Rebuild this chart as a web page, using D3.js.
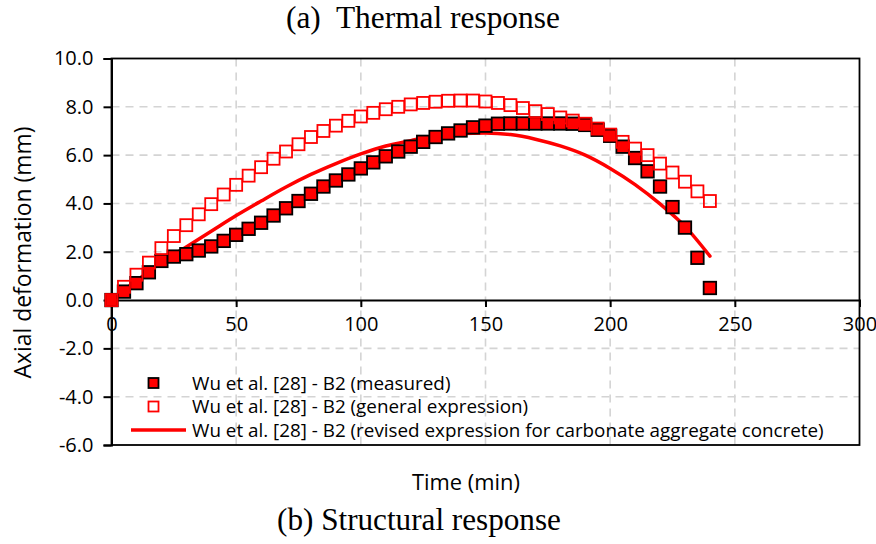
<!DOCTYPE html>
<html>
<head>
<meta charset="utf-8">
<script src="https://cdn.jsdelivr.net/npm/d3@7"></script>
<style>
  html, body { margin: 0; padding: 0; background: #ffffff; }
  svg { display: block; }
</style>
</head>
<body>
<svg id="chart" width="876" height="544"></svg>
<script>
// ---------- data ----------
const timeMeasured = [0,5,10,15,20,25,30,35,40,45,50,55,60,65,70,75,80,85,90,95,100,105,110,115,120,125,130,135,140,145,150,155,160,165,170,175,180,185,190,195,200,205,210,215,220,225,230,235,240];
const measured = [0,0.35,0.7,1.15,1.62,1.8,1.9,2.05,2.22,2.45,2.7,2.95,3.2,3.5,3.8,4.1,4.4,4.7,4.95,5.2,5.45,5.7,5.95,6.15,6.35,6.55,6.75,6.9,7.02,7.15,7.22,7.3,7.31,7.31,7.31,7.31,7.31,7.3,7.25,7.05,6.8,6.35,5.88,5.33,4.7,3.85,3.0,1.75,0.5];

const timeGeneral = [0,5,10,15,20,25,30,35,40,45,50,55,60,65,70,75,80,85,90,95,100,105,110,115,120,125,130,135,140,145,150,155,160,165,170,175,180,185,190,195,200,205,210,215,220,225,230,235,240];
const general = [0,0.55,1.05,1.55,2.15,2.65,3.1,3.55,3.97,4.37,4.77,5.15,5.5,5.85,6.15,6.45,6.75,7.0,7.22,7.42,7.6,7.75,7.9,8.0,8.1,8.16,8.21,8.25,8.26,8.26,8.22,8.16,8.07,7.95,7.82,7.7,7.56,7.43,7.3,7.1,6.85,6.55,6.27,6.0,5.65,5.28,4.9,4.5,4.1];

const timeRevised = [0,10,20,30,40,50,60,70,80,90,100,110,120,130,140,150,160,170,180,190,200,210,220,230,240];
const revised = [0,0.8,1.55,2.2,2.85,3.5,4.1,4.68,5.2,5.65,6.05,6.38,6.6,6.8,6.9,6.92,6.85,6.66,6.38,6.0,5.45,4.78,3.98,3.05,1.82];

const xTicks = [0,50,100,150,200,250,300];
const yTicks = [-6,-4,-2,0,2,4,6,8,10];

const legendLabels = [
  "Wu et al. [28] - B2 (measured)",
  "Wu et al. [28] - B2 (general expression)",
  "Wu et al. [28] - B2 (revised expression for carbonate aggregate concrete)"
];
const topCaption = "(a)  Thermal response";
const bottomCaption = "(b) Structural response";
const xTitle = "Time (min)";
const yTitle = "Axial deformation (mm)";

// ---------- layout ----------
const svg = d3.select("#chart");
const plot = {left: 111.5, right: 859.5, top: 58.5, bottom: 445};
const x = d3.scaleLinear().domain([0, 300]).range([plot.left, plot.right]);
const y = d3.scaleLinear().domain([-6, 10]).range([plot.bottom, plot.top]);
const RED = "#ff0000";
const SANS = "'Open Sans', 'Noto Sans', sans-serif";
const SERIF = "'Liberation Serif', 'DejaVu Serif', serif";

function fitText(sel, target) {
  const w = sel.node().getComputedTextLength();
  const fs = parseFloat(sel.attr("font-size"));
  sel.attr("font-size", (fs * target / w).toFixed(2));
}

// gridlines
const grid = svg.append("g").attr("stroke", "#d4d4d4").attr("stroke-width", 1.6)
  .attr("stroke-dasharray", "8,6").attr("fill", "none");
grid.selectAll("line.h").data(yTicks.filter(d => d !== 0 && d !== 10 && d !== -6)).enter()
  .append("line").attr("x1", plot.left).attr("x2", plot.right)
  .attr("y1", d => y(d)).attr("y2", d => y(d));
grid.selectAll("line.v").data(xTicks.filter(d => d !== 0 && d !== 300)).enter()
  .append("line").attr("y1", plot.top).attr("y2", plot.bottom)
  .attr("x1", d => x(d)).attr("x2", d => x(d));

// frame
svg.append("rect").attr("x", plot.left).attr("y", plot.top)
  .attr("width", plot.right - plot.left).attr("height", plot.bottom - plot.top)
  .attr("fill", "none").attr("stroke", "#000").attr("stroke-width", 1.8);

// y axis
const yAxis = d3.axisLeft(y).tickValues(yTicks).tickSize(8).tickPadding(10)
  .tickFormat(d3.format(".1f"));
const gy = svg.append("g").attr("transform", `translate(${plot.left},0)`).call(yAxis);
gy.select(".domain").attr("stroke", "#000").attr("stroke-width", 2);
gy.selectAll(".tick line").attr("stroke", "#000").attr("stroke-width", 2);
gy.selectAll(".tick text").attr("font-family", SANS).attr("font-size", 20)
  .attr("fill", "#000").text(d => d3.format(".1f")(d).replace("−", "-"));

// x axis at y = 0
const xAxis = d3.axisBottom(x).tickValues(xTicks).tickSize(7).tickPadding(10)
  .tickFormat(d3.format("d"));
const gx = svg.append("g").attr("transform", `translate(0,${y(0)})`).call(xAxis);
gx.select(".domain").attr("stroke", "#000").attr("stroke-width", 2);
gx.selectAll(".tick line").attr("stroke", "#000").attr("stroke-width", 2);
gx.selectAll(".tick text").attr("font-family", SANS).attr("font-size", 20).attr("fill", "#000");

// revised expression line (bottom)
const lineGen = d3.line().x((d, i) => x(timeRevised[i])).y(d => y(d)).curve(d3.curveMonotoneX);
svg.append("path").datum(revised).attr("d", lineGen)
  .attr("fill", "none").attr("stroke", RED).attr("stroke-width", 3.5).attr("stroke-linecap", "round");

// measured squares
const SQ = 12.5;
svg.append("g").selectAll("rect").data(measured).enter().append("rect")
  .attr("x", (d, i) => x(timeMeasured[i]) - SQ / 2).attr("y", d => y(d) - SQ / 2)
  .attr("width", SQ).attr("height", SQ)
  .attr("fill", RED).attr("stroke", "#000").attr("stroke-width", 1.8);

// general expression squares (hollow)
const SQ2 = 12;
svg.append("g").selectAll("rect").data(general).enter().append("rect")
  .attr("x", (d, i) => x(timeGeneral[i]) - SQ2 / 2).attr("y", d => y(d) - SQ2 / 2)
  .attr("width", SQ2).attr("height", SQ2)
  .attr("fill", "none").attr("stroke", RED).attr("stroke-width", 1.8);

// legend
const legY = [383, 406.5, 430];
const leg = svg.append("g");
leg.append("rect").attr("x", 153.5 - 5).attr("y", legY[0] - 5).attr("width", 10).attr("height", 10)
  .attr("fill", RED).attr("stroke", "#000").attr("stroke-width", 1.8);
leg.append("rect").attr("x", 153.5 - 5).attr("y", legY[1] - 5).attr("width", 10).attr("height", 10)
  .attr("fill", "#fff").attr("stroke", RED).attr("stroke-width", 1.8);
leg.append("line").attr("x1", 131).attr("x2", 186).attr("y1", legY[2]).attr("y2", legY[2])
  .attr("stroke", RED).attr("stroke-width", 3.5);
const legTexts = leg.selectAll("text").data(legendLabels).enter().append("text")
  .attr("x", 192).attr("y", (d, i) => legY[i]).attr("dy", "0.35em")
  .attr("font-family", SANS).attr("font-size", 17).attr("fill", "#000").text(d => d);
fitText(d3.select(legTexts.nodes()[2]), 632);
legTexts.attr("font-size", d3.select(legTexts.nodes()[2]).attr("font-size"));

// axis titles
const xt = svg.append("text").attr("x", 466).attr("y", 490).attr("text-anchor", "middle")
  .attr("font-family", SANS).attr("font-size", 20).attr("fill", "#000").text(xTitle);
fitText(xt, 108);
const yt = svg.append("text").attr("transform", "translate(31,252.5) rotate(-90)")
  .attr("text-anchor", "middle").attr("font-family", SANS).attr("font-size", 20)
  .attr("fill", "#000").text(yTitle);
fitText(yt, 252);

// captions
const ct = svg.append("text").attr("x", 286).attr("y", 28).attr("font-family", SERIF)
  .attr("font-size", 26).attr("fill", "#000").attr("xml:space", "preserve")
  .style("white-space", "pre").text(topCaption);
fitText(ct, 274);
const cb = svg.append("text").attr("x", 277).attr("y", 530).attr("font-family", SERIF)
  .attr("font-size", 26).attr("fill", "#000").text(bottomCaption);
fitText(cb, 284);
</script>
</body>
</html>
